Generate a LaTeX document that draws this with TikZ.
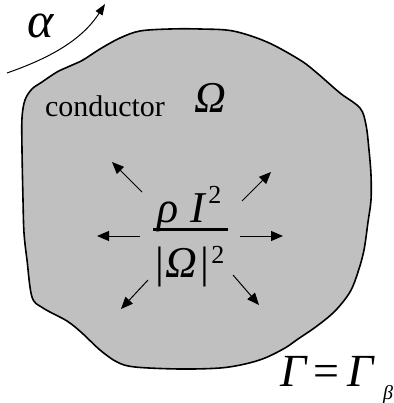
\documentclass[tikz,border=0pt]{standalone}
\usepackage{fontspec}
\setmainfont{Liberation Serif}
\usetikzlibrary{arrows.meta}
\definecolor{blobgray}{RGB}{192,192,192}
\tikzset{
  txt/.style={inner sep=0pt, outer sep=0pt, anchor=base west},
  ray/.style={line width=1pt, -{Triangle[length=12pt,width=10pt]}},
}
\begin{document}
\begin{tikzpicture}[x=1pt,y=-1pt]
\useasboundingbox (0,0) rectangle (393,403);
% conductor region
\draw[fill=blobgray, line width=1.6pt]
  plot[smooth cycle, tension=0.55] coordinates {
   (200,29) (233,31) (267,42) (300,60) (317,73) (340,93) (360,108) (366,125)
   (369,150) (371,175) (371,200) (368,222) (364,250) (358,272) (350,292)
   (335,311) (317,326) (298,339) (285,348) (265,358) (245,364) (220,368)
   (180,369) (135,367) (117,362) (100,350) (82,333) (67,321) (43,308)
   (32,297) (27,260) (24,233) (23,200) (22,150) (22,118) (25,100) (32,89)
   (42,82) (57,72) (70,66) (83,60) (100,49) (120,38) (140,31) (170,29)};
% alpha arrow
\coordinate (a0) at (7,73);
\coordinate (a1) at (105,4);
\draw[line width=1pt, -{Triangle[length=11pt,width=8pt]}] (a0) .. controls (50,58) and (82,40) .. (a1);
\node[txt, font=\fontsize{50}{50}\selectfont\itshape] (alpha) at (27,38) {α};
% labels
\node[txt, font=\fontsize{30}{30}\selectfont] (cond) at (45,117) {conductor};
\node[txt, font=\fontsize{44}{44}\selectfont\itshape] (omega) at (194,113) {Ω};
% fraction
\node[txt, font=\fontsize{44}{44}\selectfont] (num) at (157,222)
  {\textit{ρ}\hspace{12pt}\textit{I}\hspace{2pt}\raisebox{19pt}{\fontsize{26}{26}\selectfont 2}};
\coordinate (b0) at (153,229.5);
\coordinate (b1) at (228,229.5);
\draw[line width=2.8pt] (b0) -- (b1);
\node[txt, font=\fontsize{44}{44}\selectfont] (den) at (155,277)
  {|\hspace{2pt}\textit{Ω}\hspace{3pt}|\hspace{2pt}\raisebox{14pt}{\fontsize{26}{26}\selectfont 2}};
% rays
\coordinate (l0) at (140,236); \coordinate (l1) at (97,236);
\coordinate (r0) at (240,236); \coordinate (r1) at (283,236);
\coordinate (ul0) at (142,192); \coordinate (ul1) at (112,162);
\coordinate (ur0) at (242,201); \coordinate (ur1) at (271,172);
\coordinate (dl0) at (148,280); \coordinate (dl1) at (121,309);
\coordinate (dr0) at (233,275); \coordinate (dr1) at (259,305);
\draw[ray] (l0) -- (l1);
\draw[ray] (r0) -- (r1);
\draw[ray] (ul0) -- (ul1);
\draw[ray] (ur0) -- (ur1);
\draw[ray] (dl0) -- (dl1);
\draw[ray] (dr0) -- (dr1);
% boundary label
\node[txt, font=\fontsize{46}{46}\selectfont] (gam) at (280,386)
  {\textit{Γ}\hspace{6pt}=\hspace{8pt}\textit{Γ}\hspace{8pt}\raisebox{-13pt}{\fontsize{20}{20}\selectfont\itshape β}};
\end{tikzpicture}
\end{document}
